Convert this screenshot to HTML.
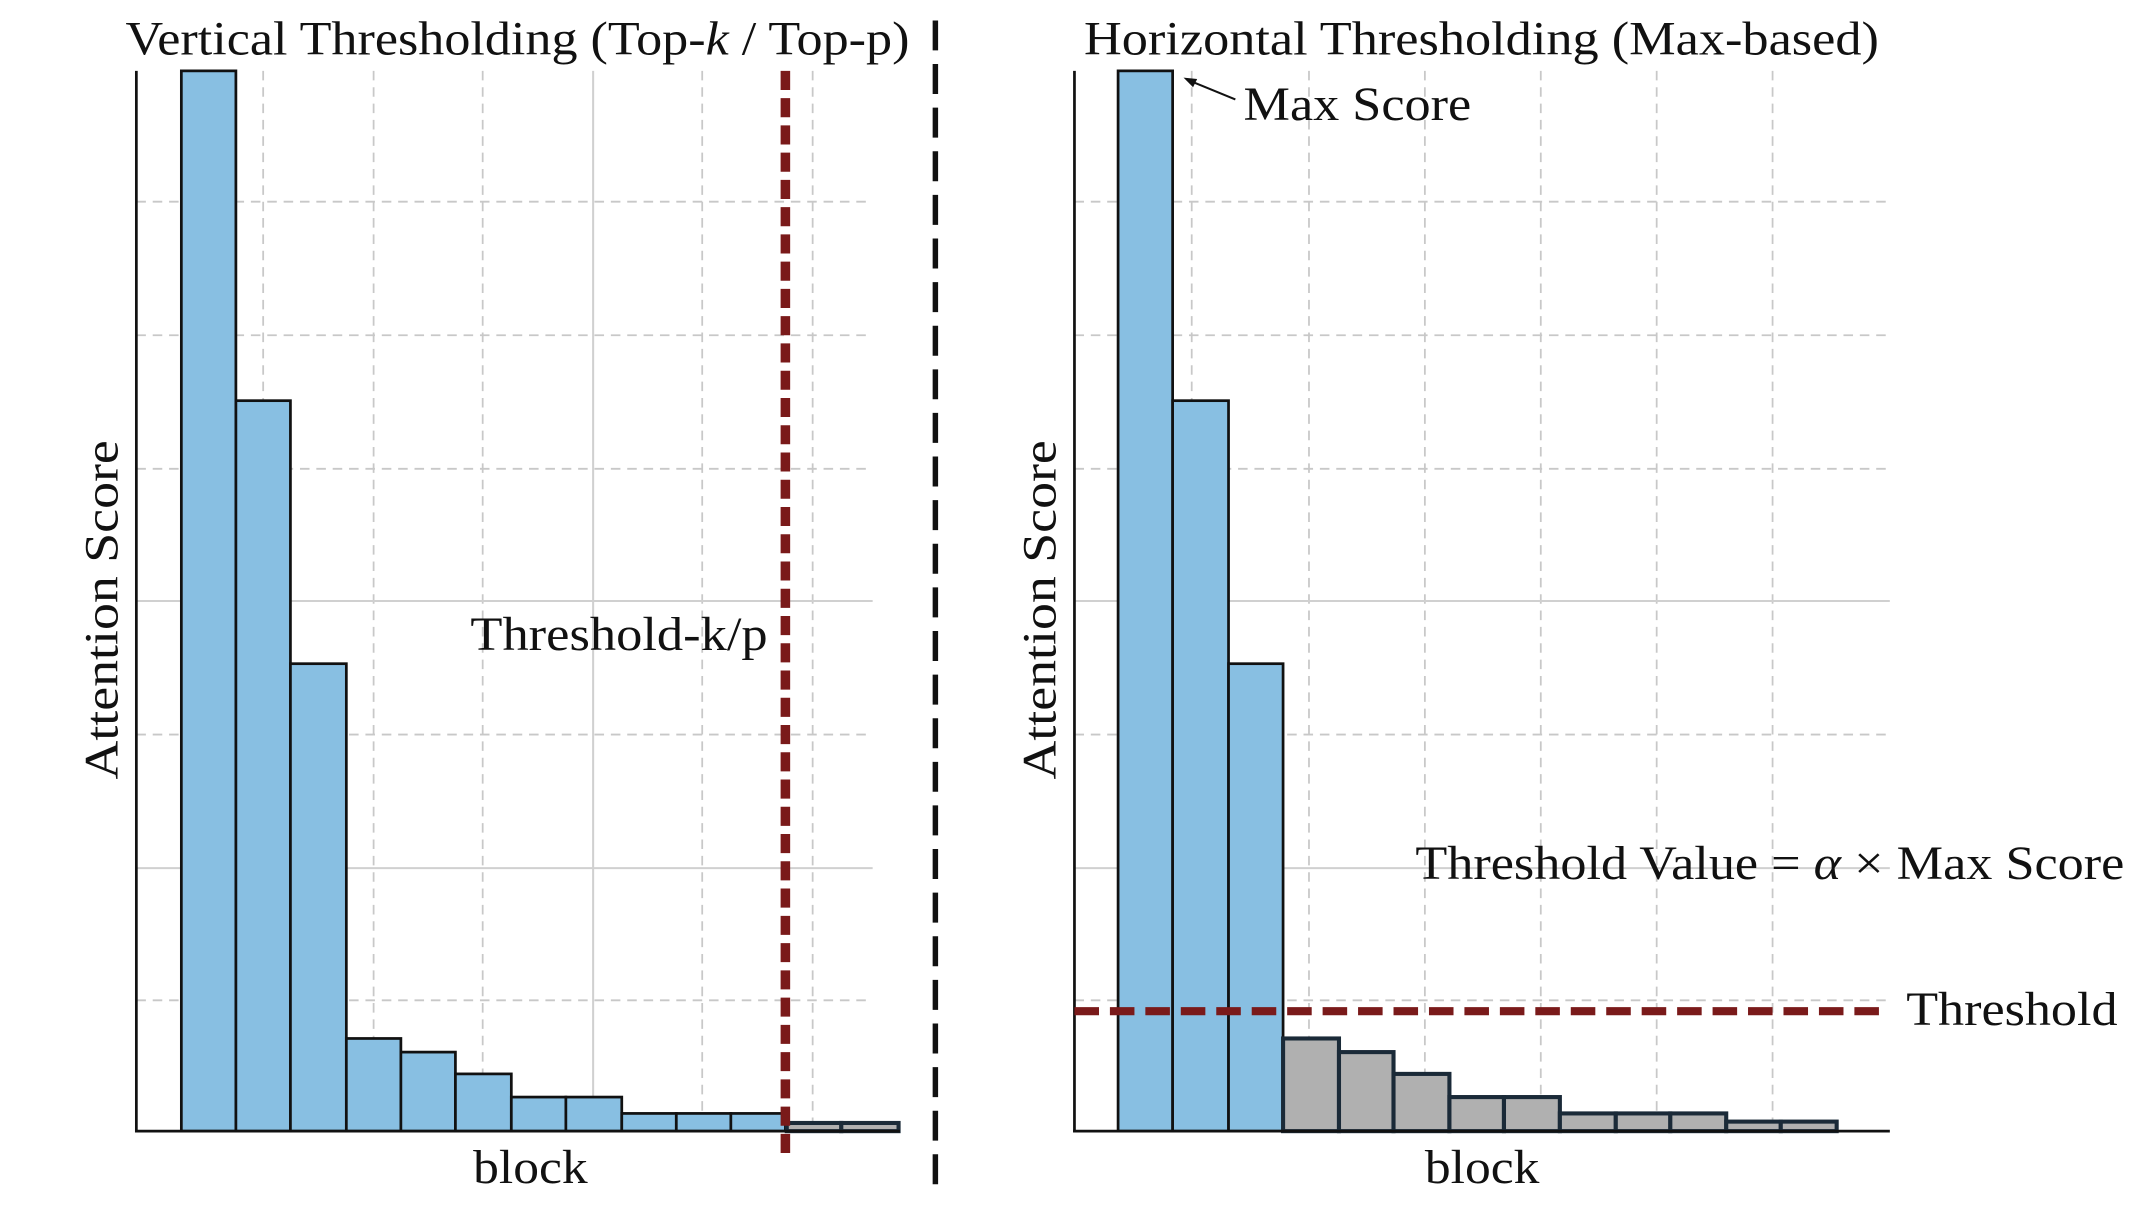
<!DOCTYPE html>
<html><head><meta charset="utf-8"><style>html,body{margin:0;padding:0;background:#fff}svg{display:block}</style></head><body>
<svg width="2138" height="1217" viewBox="0 0 1568 893" preserveAspectRatio="none" xmlns="http://www.w3.org/2000/svg" font-family="Liberation Serif, serif">
<rect width="1568" height="893" fill="#fff"/>
<g stroke="#c8c8c8" stroke-width="1.3" stroke-dasharray="7,5">
<line x1="100" y1="148" x2="640" y2="148"/><line x1="100" y1="246" x2="640" y2="246"/><line x1="100" y1="344" x2="640" y2="344"/><line x1="100" y1="539" x2="640" y2="539"/><line x1="100" y1="734" x2="640" y2="734"/>
<line x1="193" y1="52" x2="193" y2="830"/><line x1="274" y1="52" x2="274" y2="830"/><line x1="354" y1="52" x2="354" y2="830"/><line x1="515" y1="52" x2="515" y2="830"/><line x1="596" y1="52" x2="596" y2="830"/>
<line x1="788" y1="148" x2="1386" y2="148"/><line x1="788" y1="246" x2="1386" y2="246"/><line x1="788" y1="344" x2="1386" y2="344"/><line x1="788" y1="539" x2="1386" y2="539"/><line x1="788" y1="734" x2="1386" y2="734"/>
<line x1="874" y1="52" x2="874" y2="830"/><line x1="960" y1="52" x2="960" y2="830"/><line x1="1045" y1="52" x2="1045" y2="830"/><line x1="1130" y1="52" x2="1130" y2="830"/><line x1="1215" y1="52" x2="1215" y2="830"/><line x1="1300" y1="52" x2="1300" y2="830"/>
</g>
<g stroke="#d0d0d0" stroke-width="1.5">
<line x1="100" y1="441" x2="640" y2="441"/><line x1="100" y1="637" x2="640" y2="637"/><line x1="435" y1="52" x2="435" y2="830"/>
<line x1="788" y1="441" x2="1386" y2="441"/><line x1="788" y1="637" x2="1386" y2="637"/>
</g>
<g fill="#88bfe2" stroke="#111" stroke-width="2">
<rect x="133" y="52" width="40" height="778"/><rect x="173" y="294" width="40" height="536"/><rect x="213" y="487" width="41" height="343"/><rect x="254" y="762" width="40" height="68"/><rect x="294" y="772" width="40" height="58"/><rect x="334" y="788" width="41" height="42"/><rect x="375" y="805" width="40" height="25"/><rect x="415" y="805" width="41" height="25"/><rect x="456" y="817" width="40" height="13"/><rect x="496" y="817" width="40" height="13"/><rect x="536" y="817" width="40" height="13"/>
<rect x="820" y="52" width="40" height="778"/><rect x="860" y="294" width="41" height="536"/><rect x="901" y="487" width="40" height="343"/>
</g>
<g fill="#b0b0b0" stroke="#1a2a38" stroke-width="3">
<rect x="577" y="824" width="40" height="6"/><rect x="617" y="824" width="42" height="6"/>
<rect x="941" y="762" width="41" height="68"/><rect x="982" y="772" width="40" height="58"/><rect x="1022" y="788" width="41" height="42"/><rect x="1063" y="805" width="40" height="25"/><rect x="1103" y="805" width="41" height="25"/><rect x="1144" y="817" width="41" height="13"/><rect x="1185" y="817" width="40" height="13"/><rect x="1225" y="817" width="41" height="13"/><rect x="1266" y="823" width="40" height="7"/><rect x="1306" y="823" width="41" height="7"/>
</g>
<g stroke="#111" stroke-width="2">
<line x1="100" y1="52" x2="100" y2="831"/><line x1="99" y1="830" x2="660" y2="830"/>
<line x1="788" y1="52" x2="788" y2="831"/><line x1="787" y1="830" x2="1386" y2="830"/>
</g>
<line x1="576" y1="52" x2="576" y2="846" stroke="#7a1a1a" stroke-width="7" stroke-dasharray="14,6"/>
<line x1="788" y1="742" x2="1386" y2="742" stroke="#7a1a1a" stroke-width="6" stroke-dasharray="18,8"/>
<line x1="686" y1="15" x2="686" y2="878" stroke="#111" stroke-width="4" stroke-dasharray="22,10"/>
<line x1="906" y1="73" x2="872" y2="59" stroke="#111" stroke-width="1.5"/>
<polygon points="868,57 878,58 875,64" fill="#111"/>
<g font-size="35" fill="#111" lengthAdjust="spacingAndGlyphs">
<text x="92" y="40" textLength="575" lengthAdjust="spacingAndGlyphs">Vertical Thresholding (Top-<tspan font-style="italic">k</tspan> / Top-p)</text>
<text x="795" y="40" textLength="583" lengthAdjust="spacingAndGlyphs">Horizontal Thresholding (Max-based)</text>
<text x="345" y="477" textLength="218" lengthAdjust="spacingAndGlyphs">Threshold-k/p</text>
<text x="347" y="868" textLength="84" lengthAdjust="spacingAndGlyphs">block</text>
<text x="1045" y="868" textLength="84" lengthAdjust="spacingAndGlyphs">block</text>
<text x="912" y="88" textLength="167" lengthAdjust="spacingAndGlyphs">Max Score</text>
<text x="1038" y="645" textLength="520" lengthAdjust="spacingAndGlyphs">Threshold Value = <tspan font-style="italic">α</tspan> × Max Score</text>
<text x="1398" y="752" textLength="155" lengthAdjust="spacingAndGlyphs">Threshold</text>
<text transform="translate(86,572) rotate(-90)" textLength="249" lengthAdjust="spacingAndGlyphs">Attention Score</text>
<text transform="translate(774,572) rotate(-90)" textLength="249" lengthAdjust="spacingAndGlyphs">Attention Score</text>
</g>
</svg>
</body></html>
